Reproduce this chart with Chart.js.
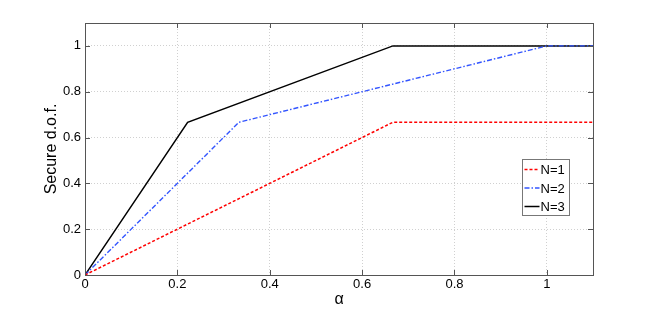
<!DOCTYPE html>
<html>
<head>
<meta charset="utf-8">
<script src="https://cdn.jsdelivr.net/npm/chart.js@4.4.0/dist/chart.umd.min.js"></script>
<style>
  html, body { margin: 0; padding: 0; background: #fff; }
  #wrap { width: 654px; height: 310px; }
</style>
</head>
<body>
<div id="wrap"><canvas id="c" width="654" height="310"></canvas></div>
<script>
// données
const alphaN1 = [0, 0.6667, 1.1];
const dofN1 = [0, 0.6667, 0.6667];
const alphaN2 = [0, 0.3333, 1, 1.1];
const dofN2 = [0, 0.6667, 1, 1];
const alphaN3 = [0, 0.2222, 0.6667, 1.1];
const dofN3 = [0, 0.6667, 1, 1];

const seriesLabels = ['N=1', 'N=2', 'N=3'];
const xTicks = [0, 0.2, 0.4, 0.6, 0.8, 1];
const yTicks = [0, 0.2, 0.4, 0.6, 0.8, 1];
const xTitle = 'α';
const yTitle = 'Secure d.o.f.';

const FONT = '"Liberation Sans", Arial, Helvetica, sans-serif';
const frameColor = '#555555';

function pts(xs, ys) {
    return xs.map((x, i) => ({ x: x, y: ys[i] }));
}

const datasets = [
    { label: seriesLabels[0], data: pts(alphaN1, dofN1), borderColor: '#ff0000', borderWidth: 1.5, borderDash: [3, 2] },
    { label: seriesLabels[1], data: pts(alphaN2, dofN2), borderColor: '#3355ff', borderWidth: 1.4, borderDash: [5, 2, 1.5, 2] },
    { label: seriesLabels[2], data: pts(alphaN3, dofN3), borderColor: '#000000', borderWidth: 1.5, borderDash: [] }
];
datasets.forEach(d => { d.pointRadius = 0; d.fill = false; d.tension = 0; });

// cadre, petites graduations vers l'intérieur, titres et légende
const matlabLook = {
    id: 'matlabLook',
    afterDatasetsDraw(chart) {
        const ctx = chart.ctx;
        const a = chart.chartArea;
        const xs = chart.scales.x, ys = chart.scales.y;
        ctx.save();
        ctx.strokeStyle = frameColor;
        ctx.lineWidth = 1;
        ctx.strokeRect(Math.round(a.left) + 0.5, Math.round(a.top) + 0.5,
                       Math.round(a.right - a.left), Math.round(a.bottom - a.top));
        const tl = 5;
        ctx.beginPath();
        xTicks.forEach(v => {
            const px = Math.round(xs.getPixelForValue(v)) + 0.5;
            ctx.moveTo(px, a.bottom); ctx.lineTo(px, a.bottom - tl);
            ctx.moveTo(px, a.top); ctx.lineTo(px, a.top + tl);
        });
        yTicks.forEach(v => {
            const py = Math.round(ys.getPixelForValue(v)) + 0.5;
            ctx.moveTo(a.left, py); ctx.lineTo(a.left + tl, py);
            ctx.moveTo(a.right, py); ctx.lineTo(a.right - tl, py);
        });
        ctx.stroke();

        // titres des axes
        ctx.fillStyle = '#000';
        ctx.font = '16px ' + FONT;
        ctx.textAlign = 'center';
        ctx.textBaseline = 'middle';
        ctx.fillText(xTitle, (a.left + a.right) / 2, 300);
        ctx.translate(52, (a.top + a.bottom) / 2);
        ctx.rotate(-Math.PI / 2);
        ctx.fillText(yTitle, 0, 0);
        ctx.restore();

        // légende
        ctx.save();
        const bx = 522.5, by = 159.5, bw = 47, bh = 56;
        ctx.fillStyle = '#fff';
        ctx.fillRect(bx, by, bw, bh);
        ctx.strokeStyle = '#777';
        ctx.lineWidth = 1;
        ctx.strokeRect(bx, by, bw, bh);
        ctx.font = '13px ' + FONT;
        ctx.textAlign = 'left';
        ctx.textBaseline = 'middle';
        chart.data.datasets.forEach((d, i) => {
            const yy = by + 10 + i * 18.5;
            ctx.beginPath();
            ctx.strokeStyle = d.borderColor;
            ctx.lineWidth = d.borderWidth;
            ctx.setLineDash(d.borderDash);
            ctx.moveTo(bx + 2, yy); ctx.lineTo(bx + 17, yy);
            ctx.stroke();
            ctx.setLineDash([]);
            ctx.fillStyle = '#000';
            ctx.fillText(d.label, bx + 18, yy + 1);
        });
        ctx.restore();
    }
};

const chart = new Chart(document.getElementById('c').getContext('2d'), {
    type: 'line',
    data: { datasets: datasets },
    options: {
        responsive: false,
        animation: false,
        devicePixelRatio: 1,
        layout: { padding: { left: 0, top: 23, right: 61, bottom: 0 } },
        plugins: { legend: { display: false }, tooltip: { enabled: false } },
        scales: {
            x: {
                type: 'linear', min: 0, max: 1.1,
                afterBuildTicks: s => { s.ticks = xTicks.map(v => ({ value: v })); },
                afterFit: s => { s.height = 35; },
                ticks: { color: '#000', font: { family: FONT, size: 13 }, padding: 2, maxRotation: 0,
                         callback: v => String(v) },
                grid: { color: '#d0d0d0', lineWidth: 1, drawTicks: false },
                border: { display: false, dash: [1, 2] }
            },
            y: {
                type: 'linear', min: 0, max: 1.1,
                afterBuildTicks: s => { s.ticks = yTicks.map(v => ({ value: v })); },
                afterFit: s => { s.width = 85; },
                ticks: { color: '#000', font: { family: FONT, size: 13 }, padding: 4,
                         callback: v => String(v) },
                grid: { color: '#d0d0d0', lineWidth: 1, drawTicks: false },
                border: { display: false, dash: [1, 2] }
            }
        }
    },
    plugins: [matlabLook]
});
</script>
</body>
</html>
